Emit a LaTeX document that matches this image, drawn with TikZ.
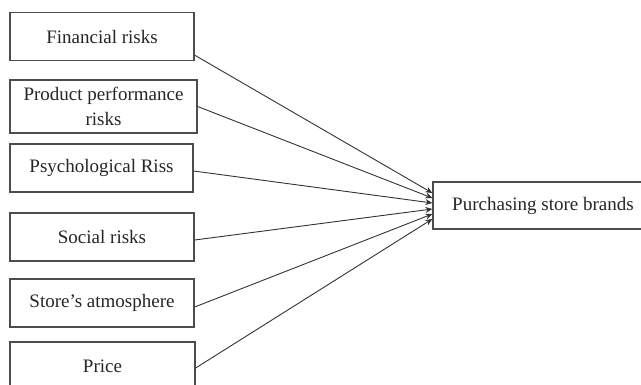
\documentclass[tikz,border=0pt]{standalone}
\usepackage{fontspec}
\setmainfont{Liberation Serif}
\usetikzlibrary{arrows.meta}
\begin{document}
\begin{tikzpicture}[x=1pt,y=-1pt,
  box/.style={draw=black!70, line width=1.3pt, fill=white, minimum height=48pt, inner sep=0pt, text=black!85,
    font=\fontsize{19}{25}\selectfont, align=center},
  conn/.style={draw=black!80, line width=0.9pt, -{Stealth[length=7pt,width=6pt]}}]
\useasboundingbox (0,0) rectangle (641,384);
\node[box, minimum width=184pt] (fin) at (102,36.5) {Financial risks};
\node[box, minimum width=187pt, minimum height=53pt] (prod) at (103.5,106.5) {Product performance\\risks};
\node[box, minimum width=183pt] (psy) at (101.5,168) {Psychological Riss};
\node[box, minimum width=184pt] (soc) at (102,237) {Social risks};
\node[box, minimum width=184pt] (sto) at (102,303) {Store’s atmosphere};
\node[box, minimum width=185pt] (pri) at (102.5,366) {Price};
\node[box, minimum width=220pt, minimum height=47pt] (psb) at (543,205.5) {Purchasing store brands};
\draw[conn] ([yshift=6pt]fin.south east) -- ([yshift=12.5pt]psb.west);
\draw[conn] (prod.east) -- ([yshift=7.5pt]psb.west);
\draw[conn] ([yshift=-3pt]psy.east) -- ([yshift=2.5pt]psb.west);
\draw[conn] ([yshift=-3pt]soc.east) -- ([yshift=-3.5pt]psb.west);
\draw[conn] ([yshift=-4pt]sto.east) -- ([yshift=-8.5pt]psb.west);
\draw[conn] ([yshift=-2pt]pri.east) -- ([yshift=-13.5pt]psb.west);
\end{tikzpicture}
\end{document}
